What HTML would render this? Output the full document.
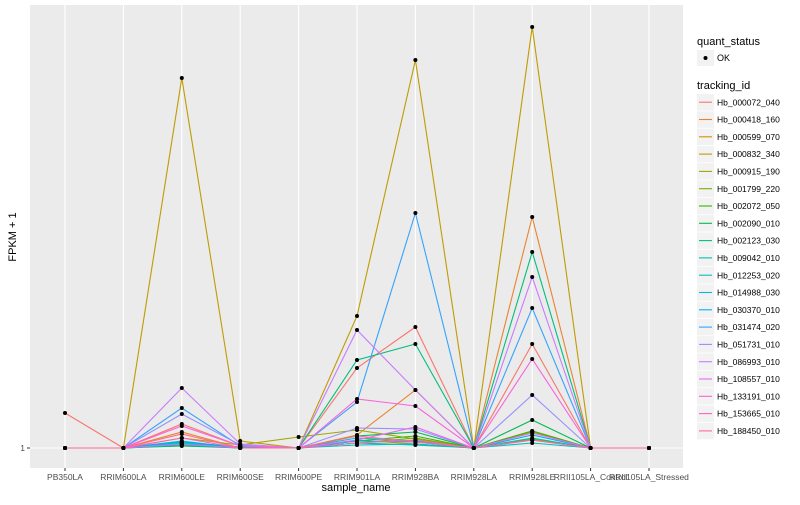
<!DOCTYPE html>
<html><head><meta charset="utf-8"><style>
body{margin:0;background:#fff;font-family:"Liberation Sans",sans-serif}
svg text{font-family:"Liberation Sans",sans-serif}
</style></head><body>
<svg id="chart" width="800" height="500" xmlns="http://www.w3.org/2000/svg">
<rect x="30" y="5" width="653" height="463" fill="#EBEBEB"/>
<g id="grid"></g><g id="lines"></g><g id="points"></g><g id="axes"></g><g id="legend"></g>
</svg>
<script>
const categories=["PB350LA","RRIM600LA","RRIM600LE","RRIM600SE","RRIM600PE","RRIM901LA","RRIM928BA","RRIM928LA","RRIM928LE","RRII105LA_Control","RRII105LA_Stressed"];
const seriesNames=["Hb_000072_040","Hb_000418_160","Hb_000599_070","Hb_000832_340","Hb_000915_190","Hb_001799_220","Hb_002072_050","Hb_002090_010","Hb_002123_030","Hb_009042_010","Hb_012253_020","Hb_014988_030","Hb_030370_010","Hb_031474_020","Hb_051731_010","Hb_086993_010","Hb_108557_010","Hb_133191_010","Hb_153665_010","Hb_188450_010"];
const colors=["#F8766D","#EA8331","#D89000","#C09B00","#A3A500","#7CAE00","#39B600","#00BB4E","#00BF7D","#00C1A3","#00BFC4","#00BAE0","#00B0F6","#35A2FF","#9590FF","#C77CFF","#E76BF3","#FA62DB","#FF62BC","#FF6C91"];
const s1=[4.5,1,3.4,1.2,1,9.0,13.1,1,11.4,1,1];
const s2=[1,1,2.6,1,1,2.3,6.8,1,24.1,1,1];
const s3=[1,1,1.6,1,1,1.8,1.4,1,2.7,1,1];
const s4=[1,1,38.0,1.7,1,14.2,39.8,1,43.1,1,1];
const s5=[1,1,2.0,1.3,2.1,2.8,1.9,1,2.6,1,1];
const s6=[1,1,1.3,1,1,1.5,2.0,1,1.9,1,1];
const s7=[1,1,1.5,1.1,1,1.7,2.2,1,2.7,1,1];
const s8=[1,1,1.2,1,1,2.2,2.6,1,3.8,1,1];
const s9=[1,1,1.4,1.1,1,9.8,11.4,1,20.6,1,1];
const s10=[1,1,1.6,1.1,1,1.5,1.3,1,2.0,1,1];
const s11=[1,1,1.3,1,1,1.3,1.4,1,1.5,1,1];
const s12=[1,1,1.5,1.1,1,2.0,1.7,1,1.8,1,1];
const s13=[1,1,1.7,1,1,1.7,1.6,1,2.3,1,1];
const s14=[1,1,5.0,1.2,1,5.6,24.5,1,15.0,1,1];
const s15=[1,1,4.4,1.3,1,3.0,2.9,1,6.3,1,1];
const s16=[1,1,7.0,1.4,1,12.8,6.8,1,18.1,1,1];
const s17=[1,1,1.4,1,1,1.8,3.1,1,2.5,1,1];
const s18=[1,1,3.2,1.2,1,5.9,5.2,1,9.9,1,1];
const s19=[1,1,2.0,1,1,1.5,1.8,1,1.8,1,1];
const s20=[1,1,2.4,1,1,2.2,1.6,1,1.8,1,1];
const series=[s1,s2,s3,s4,s5,s6,s7,s8,s9,s10,s11,s12,s13,s14,s15,s16,s17,s18,s19,s20];
const yTicks=[1];
const NS="http://www.w3.org/2000/svg";
function xs(i){return 65+i*58.4;}
function ys(v){return 448-(v-1)*10;}
function mk(tag,attrs,parent){const e=document.createElementNS(NS,tag);for(const k in attrs)e.setAttribute(k,attrs[k]);document.getElementById(parent).appendChild(e);return e;}
categories.forEach((c,i)=>{
 const g=mk('line',{x1:xs(i),x2:xs(i),y1:5,y2:468,stroke:'#fff','stroke-width':1.1},'grid');
 
 
 const t=mk('line',{x1:xs(i),x2:xs(i),y1:468,y2:471,stroke:'#333','stroke-width':1},'axes');
 
 
 const l=mk('text',{x:xs(i),y:480,'text-anchor':'middle','font-size':'8.5',fill:'#4D4D4D'},'axes');l.textContent=c;
 
 
});
yTicks.forEach(v=>{
 const g=mk('line',{x1:30,x2:683,y1:ys(v),y2:ys(v),stroke:'#fff','stroke-width':1.1},'grid');
 
 
 const t=mk('line',{x1:27,x2:30,y1:ys(v),y2:ys(v),stroke:'#333'},'axes');
 
 
 const l=mk('text',{x:25,y:ys(v)+3,'text-anchor':'end','font-size':'8.5',fill:'#4D4D4D'},'axes');l.textContent=v;
 
 
});
series.forEach((s,k)=>{
 const p=mk('polyline',{points:s.map((v,i)=>xs(i)+','+ys(v)).join(' '),fill:'none',stroke:colors[k],'stroke-width':1.1},'lines');
 
 
 s.forEach((v,i)=>{
  const c=mk('circle',{cx:xs(i),cy:ys(v),r:2,fill:'#000'},'points');
  
  
 });
});
const xt=mk('text',{x:356,y:491,'text-anchor':'middle','font-size':'11',fill:'#000'},'axes');xt.textContent='sample_name';


const yt=mk('text',{x:16,y:237,'text-anchor':'middle','font-size':'11',fill:'#000',transform:'rotate(-90 16 237)'},'axes');yt.textContent='FPKM + 1';


// legend
const q=mk('text',{x:697,y:45,'font-size':'11',fill:'#000'},'legend');q.textContent='quant_status';


const kb=mk('rect',{x:697,y:50,width:17,height:16,fill:'#F2F2F2'},'legend');


const kp=mk('circle',{cx:705.5,cy:58,r:2,fill:'#000'},'legend');


const ok=mk('text',{x:717,y:61,'font-size':'9',fill:'#000'},'legend');ok.textContent='OK';


const tt=mk('text',{x:697,y:89,'font-size':'11',fill:'#000'},'legend');tt.textContent='tracking_id';


seriesNames.forEach((n,k)=>{
 const y=94+k*17.3;
 const b=mk('rect',{x:697,y:y,width:17,height:16.5,fill:'#F2F2F2'},'legend');
 
 
 const l=mk('line',{x1:699,x2:712,y1:y+8.2,y2:y+8.2,stroke:colors[k],'stroke-width':1.1},'legend');
 
 
 const t=mk('text',{x:717,y:y+11.3,'font-size':'8.5',fill:'#000'},'legend');t.textContent=n;
 
 
});
</script>
</body></html>
